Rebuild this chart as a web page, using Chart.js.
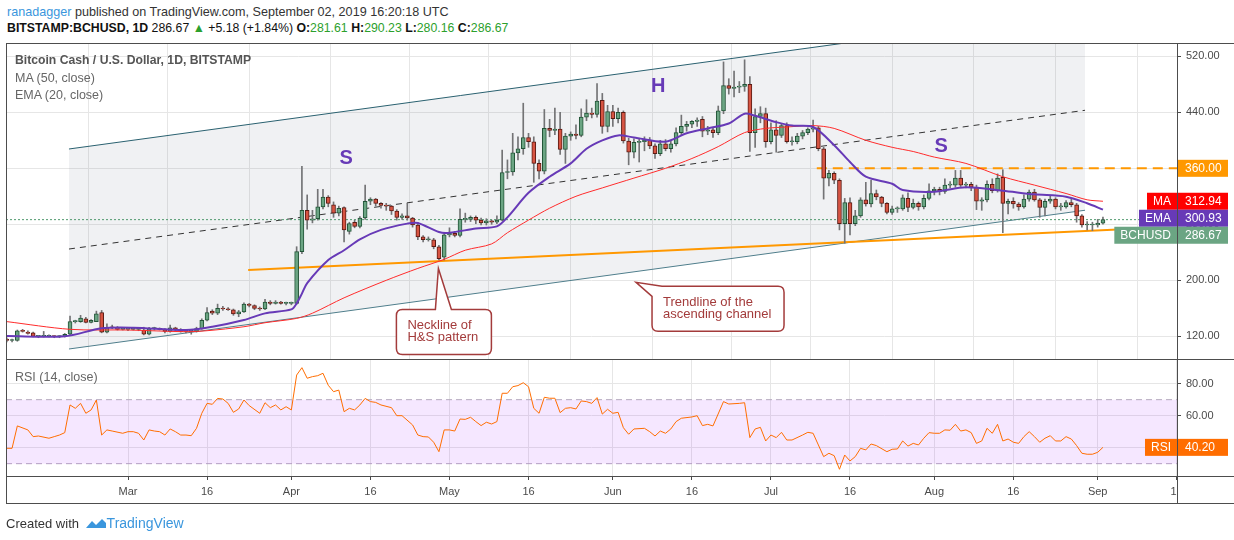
<!DOCTYPE html>
<html>
<head>
<meta charset="utf-8">
<script src="https://cdn.jsdelivr.net/npm/chart.js@4.4.0/dist/chart.umd.min.js"></script>
<style>
  body { margin: 0; width: 1234px; height: 540px; background: #fff; overflow: hidden; position: relative;
         font-family: "Liberation Sans", Arial, sans-serif; }
  canvas { position: absolute; left: 0; }
  .txt { position: absolute; white-space: nowrap; }
  .line { position: absolute; background: #4d4d4d; }
</style>
</head>
<body>
<div class="txt" style="left:7px;top:5px;font-size:12.6px;color:#333"><span style="color:#3a96dd">ranadagger</span> published on TradingView.com, September 02, 2019 16:20:18 UTC</div>
<div class="txt" style="left:7px;top:21px;font-size:12.3px;color:#111"><b>BITSTAMP:BCHUSD, 1D</b> 286.67 <span style="color:#2ca02c">&#9650;</span> +5.18 (+1.84%) <b>O:</b><span style="color:#2ca02c">281.61</span> <b>H:</b><span style="color:#2ca02c">290.23</span> <b>L:</b><span style="color:#2ca02c">280.16</span> <b>C:</b><span style="color:#2ca02c">286.67</span></div>

<canvas id="mainChart" width="1234" height="380" style="top:0"></canvas>
<canvas id="rsiChart" width="1234" height="201" style="top:339px"></canvas>

<div class="txt" style="left:15px;top:53px;font-size:12.2px;color:#555;font-weight:bold">Bitcoin Cash / U.S. Dollar, 1D, BITSTAMP</div>
<div class="txt" style="left:15px;top:71px;font-size:12.5px;color:#666">MA (50, close)</div>
<div class="txt" style="left:15px;top:88px;font-size:12.5px;color:#666">EMA (20, close)</div>
<div class="txt" style="left:15px;top:370px;font-size:12.5px;color:#666">RSI (14, close)</div>

<!-- pane frame -->
<div class="line" style="left:6px;top:43px;width:1228px;height:1px"></div>
<div class="line" style="left:6px;top:359px;width:1228px;height:1px"></div>
<div class="line" style="left:6px;top:476px;width:1228px;height:1px"></div>
<div class="line" style="left:6px;top:503px;width:1228px;height:1px"></div>
<div class="line" style="left:6px;top:43px;width:1px;height:461px"></div>
<div class="line" style="left:1177px;top:43px;width:1px;height:461px"></div>

<div class="txt" style="left:6px;top:515px;font-size:13px;color:#333">Created with
  <svg width="22" height="12" viewBox="0 0 22 12" style="vertical-align:-1px;margin-left:2px"><path d="M1 11 L7 4 L11 8 L17 2 L21 6 L21 11 Z" fill="#3a96dd"/></svg><span style="color:#3a96dd;font-size:14px">TradingView</span></div>

<script>
// day index 0 = 6 Feb 2019, last = 2 Sep 2019
const tickDays = [23, 38, 54, 69, 84, 99, 115, 130, 145, 160, 176, 191, 207, 222];
const tickLabels = ['Mar', '16', 'Apr', '16', 'May', '16', 'Jun', '16', 'Jul', '16', 'Aug', '16', 'Sep', '16'];

const opens = [116,114,114,128,126,125,120,120,120,120,119.5,120,123,141,141,145,140,141,154,126,
  133,132,130,130,130,130,129,123,131,131,129,127,132,129,127,127,127,131,143,156,
  153,160,159,158,152,155,166,164,160,159,169,167,169,167,167,167,241,300,286,288,
  305,319,308,296,304,270,283,277,289,313,316,310,307,306,299,290,292,289,279,262,
  258,258,248,233,265,267,264,287,287,290,286,282,285,283,286,354,355,382,388,404,
  398,367,356,417,414,416,387,406,409,407,433,439,437,457,420,441,431,440,399,383,
  397,398,400,392,381,395,388,395,411,420,423,427,430,413,415,411,442,478,474,476,
  477,480,411,434,438,398,415,407,421,398,398,406,411,416,418,388,346,353,343,281,
  311,281,292,315,309,324,319,310,297,302,302,317,304,310,305,317,328,330,327,336,
  336,346,336,337,333,313,315,337,328,347,310,313,309,305,316,326,315,304,313,316,
  305,305,311,308,292,279,279,279,281.61];
const highs = [118,116,129,130,128,126,121,127,122,121,121,124,149,143,150,147,144,156,157,138,
  136,134,132,131,132,132,133,133,133,132,131,136,133,131,129,128,133,145,161,158,
  166,163,161,159,157,168,167,165,162,173,171,171,170,169,169,248,363,322,300,330,
  330,321,312,306,305,283,286,291,336,318,317,311,310,307,301,295,310,290,282,264,
  262,260,250,268,275,270,302,296,292,292,289,288,286,292,386,372,410,405,453,410,
  405,372,444,430,446,440,410,412,422,445,458,446,481,467,450,450,446,442,403,402,
  403,405,404,395,400,401,400,418,436,427,428,432,434,420,418,449,512,488,499,484,
  515,491,445,448,446,425,428,424,425,405,410,414,418,429,420,390,357,355,345,317,
  318,300,318,340,343,329,320,311,306,305,322,325,316,312,322,338,333,333,345,341,
  357,357,340,340,336,318,342,345,352,358,316,318,311,322,329,330,317,316,320,318,
  310,314,316,310,294,284,283,287,290.23];
const lows = [112,112,113,126,123,119,118,119,119,118,118,119,122,139,140,139,139,141,125,125,
  131,129,129,128,129,128,122,122,129,129,125,126,128,126,125,123,126,130,142,151,
  151,157,157,150,148,154,162,158,157,158,165,166,166,165,165,166,238,273,282,286,
  302,305,290,292,255,266,275,275,287,308,306,303,300,294,286,287,286,276,258,255,
  256,245,229,229,262,262,262,283,284,281,279,279,280,281,285,345,350,372,380,390,
  340,345,352,405,408,380,367,400,402,405,428,432,433,410,412,420,425,396,365,375,
  369,385,388,374,378,385,383,392,407,413,418,420,405,408,404,408,438,466,462,468,
  470,384,390,425,390,395,383,404,396,393,395,402,408,412,385,316,335,338,272,253,
  265,278,290,306,305,315,305,295,294,297,300,298,302,300,302,315,322,322,324,332,
  333,334,332,328,301,300,312,325,326,268,295,303,300,303,313,313,290,292,310,302,
  300,303,305,283,276,272,271,276,280.16];
const closes = [114,114,128,127,124,120,120,120,120,119.5,120,123,141,141,146,140,143,152,126,133,
  132,130,130,130,130,131,123,131,131,130,127,132,129,127,127,127,131,143,154,153,
  160,159,158,152,155,166,164,160,159,169,167,169,167,167,167,241,300,286,288,305,
  319,310,296,303,272,281,277,289,313,316,310,307,306,299,290,292,289,279,262,258,
  258,248,231,265,267,264,287,287,290,286,282,285,283,286,354,355,382,388,404,398,
  367,356,417,414,416,387,406,409,407,433,439,437,456,420,441,431,440,399,383,397,
  398,400,392,381,395,388,395,411,420,423,427,429,413,415,411,442,478,474,476,477,
  480,411,434,438,398,415,407,421,398,398,406,411,416,418,388,346,353,343,281,311,
  281,292,315,309,324,319,310,297,302,302,318,304,310,305,317,328,330,327,336,336,
  346,336,337,333,313,315,337,328,346,310,313,309,305,316,326,315,304,313,316,305,
  305,311,308,292,279,279,279,281.6,286.67];

const maDays = [0, 12, 23, 34, 38, 45, 49, 55, 58, 64, 72, 78, 83, 87, 92, 95, 99, 103, 108, 113, 119, 125, 130, 135, 140, 144, 148, 153, 157, 163, 168, 172, 176, 182, 189, 195, 201, 205, 208];
const maValues = [141, 130, 129, 126.6, 128, 133.7, 139.4, 145.6, 153, 175, 200, 217, 230, 243, 252, 268, 286, 303, 320, 332, 346, 360, 374, 391, 411, 417, 419, 421, 417, 400, 390, 384, 376, 367, 348, 336, 324, 315, 312.94];
const emaDays = [0, 11, 18, 24, 34, 39, 45, 49, 54, 55, 56, 57, 61, 64, 67, 71, 76, 78, 82, 84, 89, 93, 95, 99, 103, 107, 110, 113, 116, 119, 125, 129, 133, 137, 140, 142, 146, 149, 153, 157, 160, 163, 168, 170, 176, 182, 189, 195, 201, 205, 208];
const emaValues = [120.4, 120, 131.4, 132.3, 129, 133.7, 143.3, 152.8, 158.5, 167, 181, 196, 229, 243, 258.5, 272, 281, 282, 269, 268, 274, 277, 290, 325, 348, 367, 388, 400, 407, 404, 398, 410, 417, 424, 438, 435, 426, 421, 419, 393, 369, 348, 338, 329, 326.6, 332.8, 328, 322.8, 319.5, 310, 300.93];

const rsiDays = [0,1,2,4,5,6,8,9,10,11,12,13,14,15,16,17,18,19,20,22,23,24,25,26,27,28,29,30,31,32,33,34,35,36,37,38,39,40,41,42,43,44,45,46,48,49,50,51,52,53,54,
  55,56,57,58,59,60,61,62,63,64,65,66,67,68,69,70,71,73,74,75,77,78,79,80,81,82,83,84,85,86,87,88,89,90,91,92,93,94,95,96,97,98,99,
  100,101,102,103,104,105,106,107,108,109,110,111,112,113,114,115,116,117,118,119,121,122,123,124,125,126,127,128,130,131,132,133,134,136,137,139,
  140,141,142,143,144,145,146,147,148,149,151,152,153,154,155,156,157,158,159,160,161,162,163,164,165,167,168,169,170,171,172,173,174,175,176,177,178,179,
  180,181,182,183,184,185,186,187,188,189,190,191,192,193,194,195,196,197,198,199,200,201,202,203,204,205,206,207,208];
const rsiValues = [39.6,39.6,53.6,51.1,46.9,47.3,45.9,46.9,47.9,49.4,66.7,64.6,67.7,61.5,63.6,69.8,47.9,51.1,50.4,49,50,50,49,44.8,51.1,50.4,50,47.9,51.7,50,47.9,47.9,47.5,52.1,61.5,67.7,67.1,70.8,70.4,67.7,62.1,64.2,69.8,66.3,61.5,68.1,65,66.7,63.6,65.6,63.6,
  85.4,90,83.4,84.4,85,86.5,79,75,76,62.5,64.6,63.6,66.7,70.8,68.8,68.3,66.7,65,60,60,54.2,47.9,46.9,46.7,43.4,37.5,51.1,51.1,50.4,57.9,57.7,59,56.3,53.8,55.9,54.8,56.3,74,74,78.1,78.8,80.6,78.1,
  64.6,61.5,71.5,70.9,70.9,61.9,64.6,65,64.2,69.2,68.8,67.7,71.3,61,64,61.5,62.1,52.5,48.4,51.7,52.1,50,47.3,50.4,49,51.7,56.3,58.4,59.2,60,53.8,54.6,53.6,68.8,67.3,67.7,
  68.1,46.3,51.7,52.7,44.2,47.9,46.3,49.6,44.8,44.8,47.9,49.6,49,41.7,34.4,36.5,35,26.5,35.4,31.7,34.4,39.6,38.6,42.3,41.3,37.5,39,39.2,44.2,41,42.7,41.7,45.9,49.4,49,49,51.1,50.9,
  54.6,50.4,51.1,49.4,42.7,44.2,52.1,49,54.6,44.2,45.4,43.4,42.7,46.9,50,46.9,43.4,45.9,47.5,44.2,44.2,46.9,45.4,41.3,36.5,35.9,35.9,37.1,40.2];

// drawings on the price pane, in (day, price)
const channelDays = [11.8, 204.6];
const channelUpper = [387.6, 585.8];
const channelMid = [244.7, 442.9];
const channelLower = [101.9, 300.1];
const necklineDays = [45.8, 211.8];
const necklineValues = [214.7, 273];
const resistanceLevel = 360;
const resistanceFrom = 153.7;
const patternLetters = ['S', 'H', 'S'];
const patternDays = [64.4, 123.6, 177.3];
const patternPrices = [374.3, 476.4, 390.9];
const calloutTexts = [['Neckline of', 'H&S pattern'], ['Trendline of the', 'ascending channel']];
const calloutDays = [81.9, 119.4];
const calloutPrices = [217, 197.1];

const priceTicks = [120, 200, 280, 360, 440, 520];
const rsiTicks = [40, 60, 80];
const rsiUpper = 70, rsiLower = 30;
const xMin = -0.15, xMax = 222.05;

Chart.defaults.font.family = '"Liberation Sans", Arial, sans-serif';
Chart.defaults.animation = false;

const pts = (xs, ys) => xs.map((v, k) => ({x: v, y: ys[k]}));
const lastClose = closes[closes.length - 1];
const lastMA = maValues[maValues.length - 1];
const lastEMA = emaValues[emaValues.length - 1];
const lastRSI = rsiValues[rsiValues.length - 1];

function badge(ctx, left, yc, label, value, color) {
  ctx.font = '12px "Liberation Sans", Arial, sans-serif';
  ctx.textBaseline = 'middle';
  ctx.fillStyle = color;
  ctx.fillRect(left + 1, yc - 8.5, 50, 17);
  ctx.fillStyle = '#fff';
  ctx.textAlign = 'left';
  ctx.fillText(value, left + 8, yc + 0.5);
  if (label) {
    const w = ctx.measureText(label).width + 12;
    ctx.fillStyle = color;
    ctx.fillRect(left - w, yc - 8.5, w, 17);
    ctx.fillStyle = '#fff';
    ctx.fillText(label, left - w + 6, yc + 0.5);
  }
}

function callout(ctx, tipX, tipY, boxL, boxT, w, h, lines, tailCorner) {
  const r = 6, boxR = boxL + w, boxB = boxT + h;
  ctx.beginPath();
  if (tailCorner) {
    ctx.moveTo(boxL + 10, boxT);
  } else {
    ctx.moveTo(boxL + r, boxT);
    ctx.lineTo(tipX - 3, boxT);
    ctx.lineTo(tipX, tipY);
    ctx.lineTo(tipX + 13, boxT);
  }
  ctx.lineTo(boxR - r, boxT);
  ctx.quadraticCurveTo(boxR, boxT, boxR, boxT + r);
  ctx.lineTo(boxR, boxB - r);
  ctx.quadraticCurveTo(boxR, boxB, boxR - r, boxB);
  ctx.lineTo(boxL + r, boxB);
  ctx.quadraticCurveTo(boxL, boxB, boxL, boxB - r);
  if (tailCorner) {
    ctx.lineTo(boxL, boxT + 10);
    ctx.lineTo(tipX, tipY);
  } else {
    ctx.lineTo(boxL, boxT + r);
    ctx.quadraticCurveTo(boxL, boxT, boxL + r, boxT);
  }
  ctx.closePath();
  ctx.fillStyle = '#fff';
  ctx.fill();
  ctx.strokeStyle = '#a33b3b';
  ctx.lineWidth = 1.5;
  ctx.stroke();
  ctx.fillStyle = '#a33b3b';
  ctx.font = '13px "Liberation Sans", Arial, sans-serif';
  ctx.textAlign = 'left';
  ctx.textBaseline = 'alphabetic';
  lines.forEach((t, k) => ctx.fillText(t, boxL + 11, boxT + 20 + k * 12));
}

const drawingsPlugin = {
  id: 'drawings',
  afterDatasetsDraw(chart) {
    const {ctx, scales: {x, y}} = chart;
    ctx.save();
    ctx.font = 'bold 20px "Liberation Sans", Arial, sans-serif';
    ctx.fillStyle = '#673ab7';
    ctx.textAlign = 'center';
    ctx.textBaseline = 'middle';
    patternLetters.forEach((t, k) => ctx.fillText(t, x.getPixelForValue(patternDays[k]), y.getPixelForValue(patternPrices[k])));
    // callouts: neckline (tail on top edge), channel trendline (tail at corner)
    let tx = x.getPixelForValue(calloutDays[0]), ty = y.getPixelForValue(calloutPrices[0]);
    callout(ctx, tx, ty, tx - 42, ty + 41, 95, 45, calloutTexts[0], false);
    tx = x.getPixelForValue(calloutDays[1]); ty = y.getPixelForValue(calloutPrices[1]);
    callout(ctx, tx, ty, tx + 16, ty + 4, 132, 45, calloutTexts[1], true);
    ctx.restore();
  },
  afterDraw(chart) {
    const {ctx, chartArea, scales: {y}} = chart;
    ctx.save();
    const left = chartArea.right;
    badge(ctx, left, y.getPixelForValue(resistanceLevel), null, resistanceLevel.toFixed(2), '#ff9800');
    const yMA = y.getPixelForValue(lastMA);
    const yEMA = Math.max(y.getPixelForValue(lastEMA), yMA + 17);
    const yPx = Math.max(y.getPixelForValue(lastClose), yEMA + 17);
    badge(ctx, left, yMA, 'MA', lastMA.toFixed(2), '#ff0000');
    badge(ctx, left, yEMA, 'EMA', lastEMA.toFixed(2), '#673ab7');
    badge(ctx, left, yPx, 'BCHUSD', lastClose.toFixed(2), '#6ba583');
    ctx.restore();
  }
};

const rsiBadgePlugin = {
  id: 'rsiBadge',
  afterDraw(chart) {
    const {ctx, chartArea, scales: {y}} = chart;
    ctx.save();
    // hide the part of the last date label that runs under the price axis
    ctx.fillStyle = '#fff';
    ctx.fillRect(chartArea.right + 1, chartArea.bottom + 1, chart.width - chartArea.right, 30);
    badge(ctx, chartArea.right, y.getPixelForValue(lastRSI), 'RSI', lastRSI.toFixed(2), '#ff6d00');
    ctx.restore();
  }
};

const gridColor = '#e6e6e6';
const axisText = '#4a4a4a';

const xTicks = scale => { scale.ticks = tickDays.map(v => ({value: v})); };

new Chart(document.getElementById('mainChart'), {
  type: 'bar',
  data: {
    datasets: [
      { type: 'line', data: pts(channelDays, channelLower), borderColor: '#4e7f8c', borderWidth: 1, pointRadius: 0, fill: false, order: 20 },
      { type: 'line', data: pts(channelDays, channelUpper), borderColor: '#2a6170', borderWidth: 1, pointRadius: 0,
        fill: '-1', backgroundColor: 'rgba(110,120,140,0.1)', order: 19 },
      { type: 'line', data: pts(channelDays, channelMid), borderColor: '#333', borderWidth: 1, borderDash: [6, 5], pointRadius: 0, order: 18 },
      { type: 'line', data: pts([xMin, xMax], [lastClose, lastClose]), borderColor: '#4f9a6e', borderWidth: 1, borderDash: [2, 2], pointRadius: 0, order: 17 },
      { type: 'line', data: pts(necklineDays, necklineValues), borderColor: '#ff9800', borderWidth: 2, pointRadius: 0, order: 16 },
      { type: 'line', data: pts([resistanceFrom, xMax], [resistanceLevel, resistanceLevel]), borderColor: '#ff9800', borderWidth: 2, borderDash: [10, 6], pointRadius: 0, order: 15 },
      { data: closes.map((c, i) => ({x: i, y: [lows[i], highs[i]]})), backgroundColor: '#737375', barThickness: 1, grouped: false, order: 5 },
      { data: closes.map((c, i) => ({x: i, y: [opens[i], c]})),
        backgroundColor: closes.map((c, i) => c >= opens[i] ? '#6ba583' : '#d75442'),
        borderColor: closes.map((c, i) => c >= opens[i] ? '#225437' : '#5b1a13'),
        borderWidth: 1, borderSkipped: false, barThickness: 4, minBarLength: 1, grouped: false, order: 4 },
      { type: 'line', data: pts(maDays, maValues), borderColor: '#ff2b2b', borderWidth: 1, pointRadius: 0, tension: 0.3, order: 2 },
      { type: 'line', data: pts(emaDays, emaValues), borderColor: '#673ab7', borderWidth: 2, pointRadius: 0, tension: 0.3, order: 1 }
    ]
  },
  options: {
    responsive: false,
    layout: { padding: { left: 6, top: 43, right: 0, bottom: 21 } },
    plugins: { legend: { display: false }, tooltip: { enabled: false } },
    scales: {
      x: {
        type: 'linear', min: xMin, max: xMax, offset: false,
        afterBuildTicks: xTicks,
        ticks: { display: false },
        grid: { color: gridColor, drawTicks: false },
        border: { display: false },
        afterFit: s => { s.height = 0; }
      },
      y: {
        position: 'right', min: 87.6, max: 539,
        afterBuildTicks: s => { s.ticks = priceTicks.map(v => ({value: v})); },
        ticks: { callback: v => v.toFixed(2), color: axisText, font: { size: 11 }, padding: 5 },
        grid: { color: gridColor, tickLength: 4, tickColor: axisText },
        border: { display: false },
        afterFit: s => { s.width = 57; }
      }
    }
  },
  plugins: [drawingsPlugin]
});

new Chart(document.getElementById('rsiChart'), {
  type: 'line',
  data: {
    datasets: [
      { data: pts([xMin, xMax], [rsiLower, rsiLower]), borderColor: '#b5a9bd', borderWidth: 1, borderDash: [6, 4], pointRadius: 0, fill: false, order: 3 },
      { data: pts([xMin, xMax], [rsiUpper, rsiUpper]), borderColor: '#b5a9bd', borderWidth: 1, borderDash: [6, 4], pointRadius: 0,
        fill: '-1', backgroundColor: 'rgba(153,21,255,0.1)', order: 2 },
      { data: pts(rsiDays, rsiValues), borderColor: '#ff6d00', borderWidth: 1, pointRadius: 0, order: 1 }
    ]
  },
  options: {
    responsive: false,
    layout: { padding: { left: 6, top: 21, right: 0, bottom: 37 } },
    plugins: { legend: { display: false }, tooltip: { enabled: false } },
    scales: {
      x: {
        type: 'linear', min: xMin, max: xMax, offset: false,
        afterBuildTicks: xTicks,
        ticks: { autoSkip: false, maxRotation: 0, color: axisText, font: { size: 11 }, padding: 5,
                 callback: v => tickLabels[tickDays.indexOf(v)] },
        grid: { color: gridColor, tickLength: 4, tickColor: axisText },
        border: { display: false },
        afterFit: s => { s.height = 27; }
      },
      y: {
        position: 'right', min: 22.3, max: 94.8,
        afterBuildTicks: s => { s.ticks = rsiTicks.map(v => ({value: v})); },
        ticks: { callback: v => v.toFixed(2), color: axisText, font: { size: 11 }, padding: 5 },
        grid: { color: gridColor, tickLength: 4, tickColor: axisText },
        border: { display: false },
        afterFit: s => { s.width = 57; }
      }
    }
  },
  plugins: [rsiBadgePlugin]
});
</script>
</body>
</html>
